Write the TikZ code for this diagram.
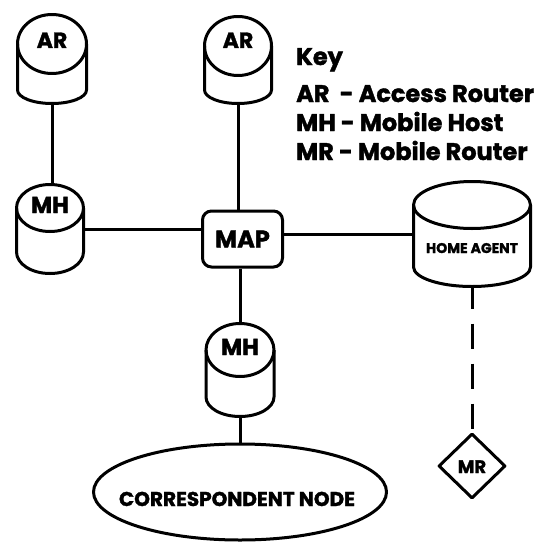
\documentclass[tikz,border=0pt]{standalone}
\usepackage{fontspec}
\setmainfont{Poppins}[BoldFeatures={FakeBold=1.6}]
\usetikzlibrary{shapes.geometric,fit}

\tikzset{
  outline/.style={line width=3pt, line join=round},
  link/.style={line width=3pt},
  dashlink/.style={line width=3pt, dash pattern=on 25pt off 15pt, dash phase=3pt},
  keytext/.style={anchor=base west, inner sep=0pt, font=\bfseries\fontsize{24}{24}\selectfont},
  lbl/.style={anchor=base, inner sep=0pt},
}

% drum: name, cx, top-ellipse centre y, rx, top ry, bottom-arc centre y, bottom ry, label, label baseline
\newcommand{\drumnode}[9]{%
  \draw[outline] (#2,-#3) ellipse [x radius=#4pt, y radius=#5pt];
  \draw[outline] (#2-#4,-#3) -- (#2-#4,-#6)
      arc[start angle=180, end angle=360, x radius=#4pt, y radius=#7pt] -- (#2+#4,-#3);
  \node[fit={(#2-#4,-#3+#5) (#2+#4,-#6-#7)}, inner sep=0pt] (#1) {};
  \node[lbl] (#1-label) at (#2,-#9) {#8};
}

\begin{document}
\begin{tikzpicture}[x=1pt, y=1pt]
\useasboundingbox (0,0) rectangle (533,-543);

% access routers, mobile hosts and the home agent
\drumnode{ar1}{52}{44}{34.5}{29.5}{90}{13.5}{\bfseries\fontsize{22}{22}\selectfont AR}{48}
\drumnode{ar2}{238}{46}{33.5}{29.5}{90}{13.5}{\bfseries\fontsize{22}{22}\selectfont AR}{48}
\drumnode{mh1}{50}{208}{33.5}{23.5}{252}{21.5}{\bfseries\fontsize{23}{23}\selectfont MH}{213}
\drumnode{mh2}{240}{350}{34}{26.5}{397}{19.5}{\bfseries\fontsize{23}{23}\selectfont MH}{355}
\drumnode{ha}{472}{205}{58.5}{23.5}{267}{19.5}{\bfseries\fontsize{14}{14}\selectfont HOME AGENT}{253}

% mobility anchor point
\node[draw, outline, rounded corners=9pt, minimum width=80pt, minimum height=56pt,
      inner sep=0pt, font=\bfseries\fontsize{24}{24}\selectfont] (map) at (242.5,-239) {MAP};

% correspondent node
\node[draw, outline, ellipse, minimum width=293pt, minimum height=96pt, inner sep=0pt] (cn) at (240,-492) {};
\node[lbl, font=\bfseries\fontsize{20}{20}\selectfont] (cn-label) at (237,-506) {CORRESPONDENT NODE};

% mobile router
\node[draw, outline, diamond, minimum width=67pt, minimum height=65pt, inner sep=0pt] (mr) at (472,-466) {};
\node[lbl, font=\bfseries\fontsize{18}{18}\selectfont] (mr-label) at (472,-473) {MR};

% connectors
\draw[link] (ar1.south) -- (ar1.south |- mh1.north);
\draw[link] (ar2.south) -- (ar2.south |- map.north);
\draw[link] (mh1.east) -- (mh1.east -| map.west);
\draw[link] (map.east |- ha.west) -- (ha.west);
\draw[link] (mh2.north |- map.south) -- (mh2.north);
\draw[link] (mh2.south) -- (mh2.south |- cn.north);
\draw[dashlink] (ha.south) -- (mr.north);

% key
\node[keytext] (key-title) at (296,-65) {Key};
\node[keytext] (key-ar) at (296,-102) {AR~~- Access Router};
\node[keytext] (key-mh) at (296,-131) {MH - Mobile Host};
\node[keytext] (key-mr) at (296,-160) {MR - Mobile Router};
\end{tikzpicture}
\end{document}
